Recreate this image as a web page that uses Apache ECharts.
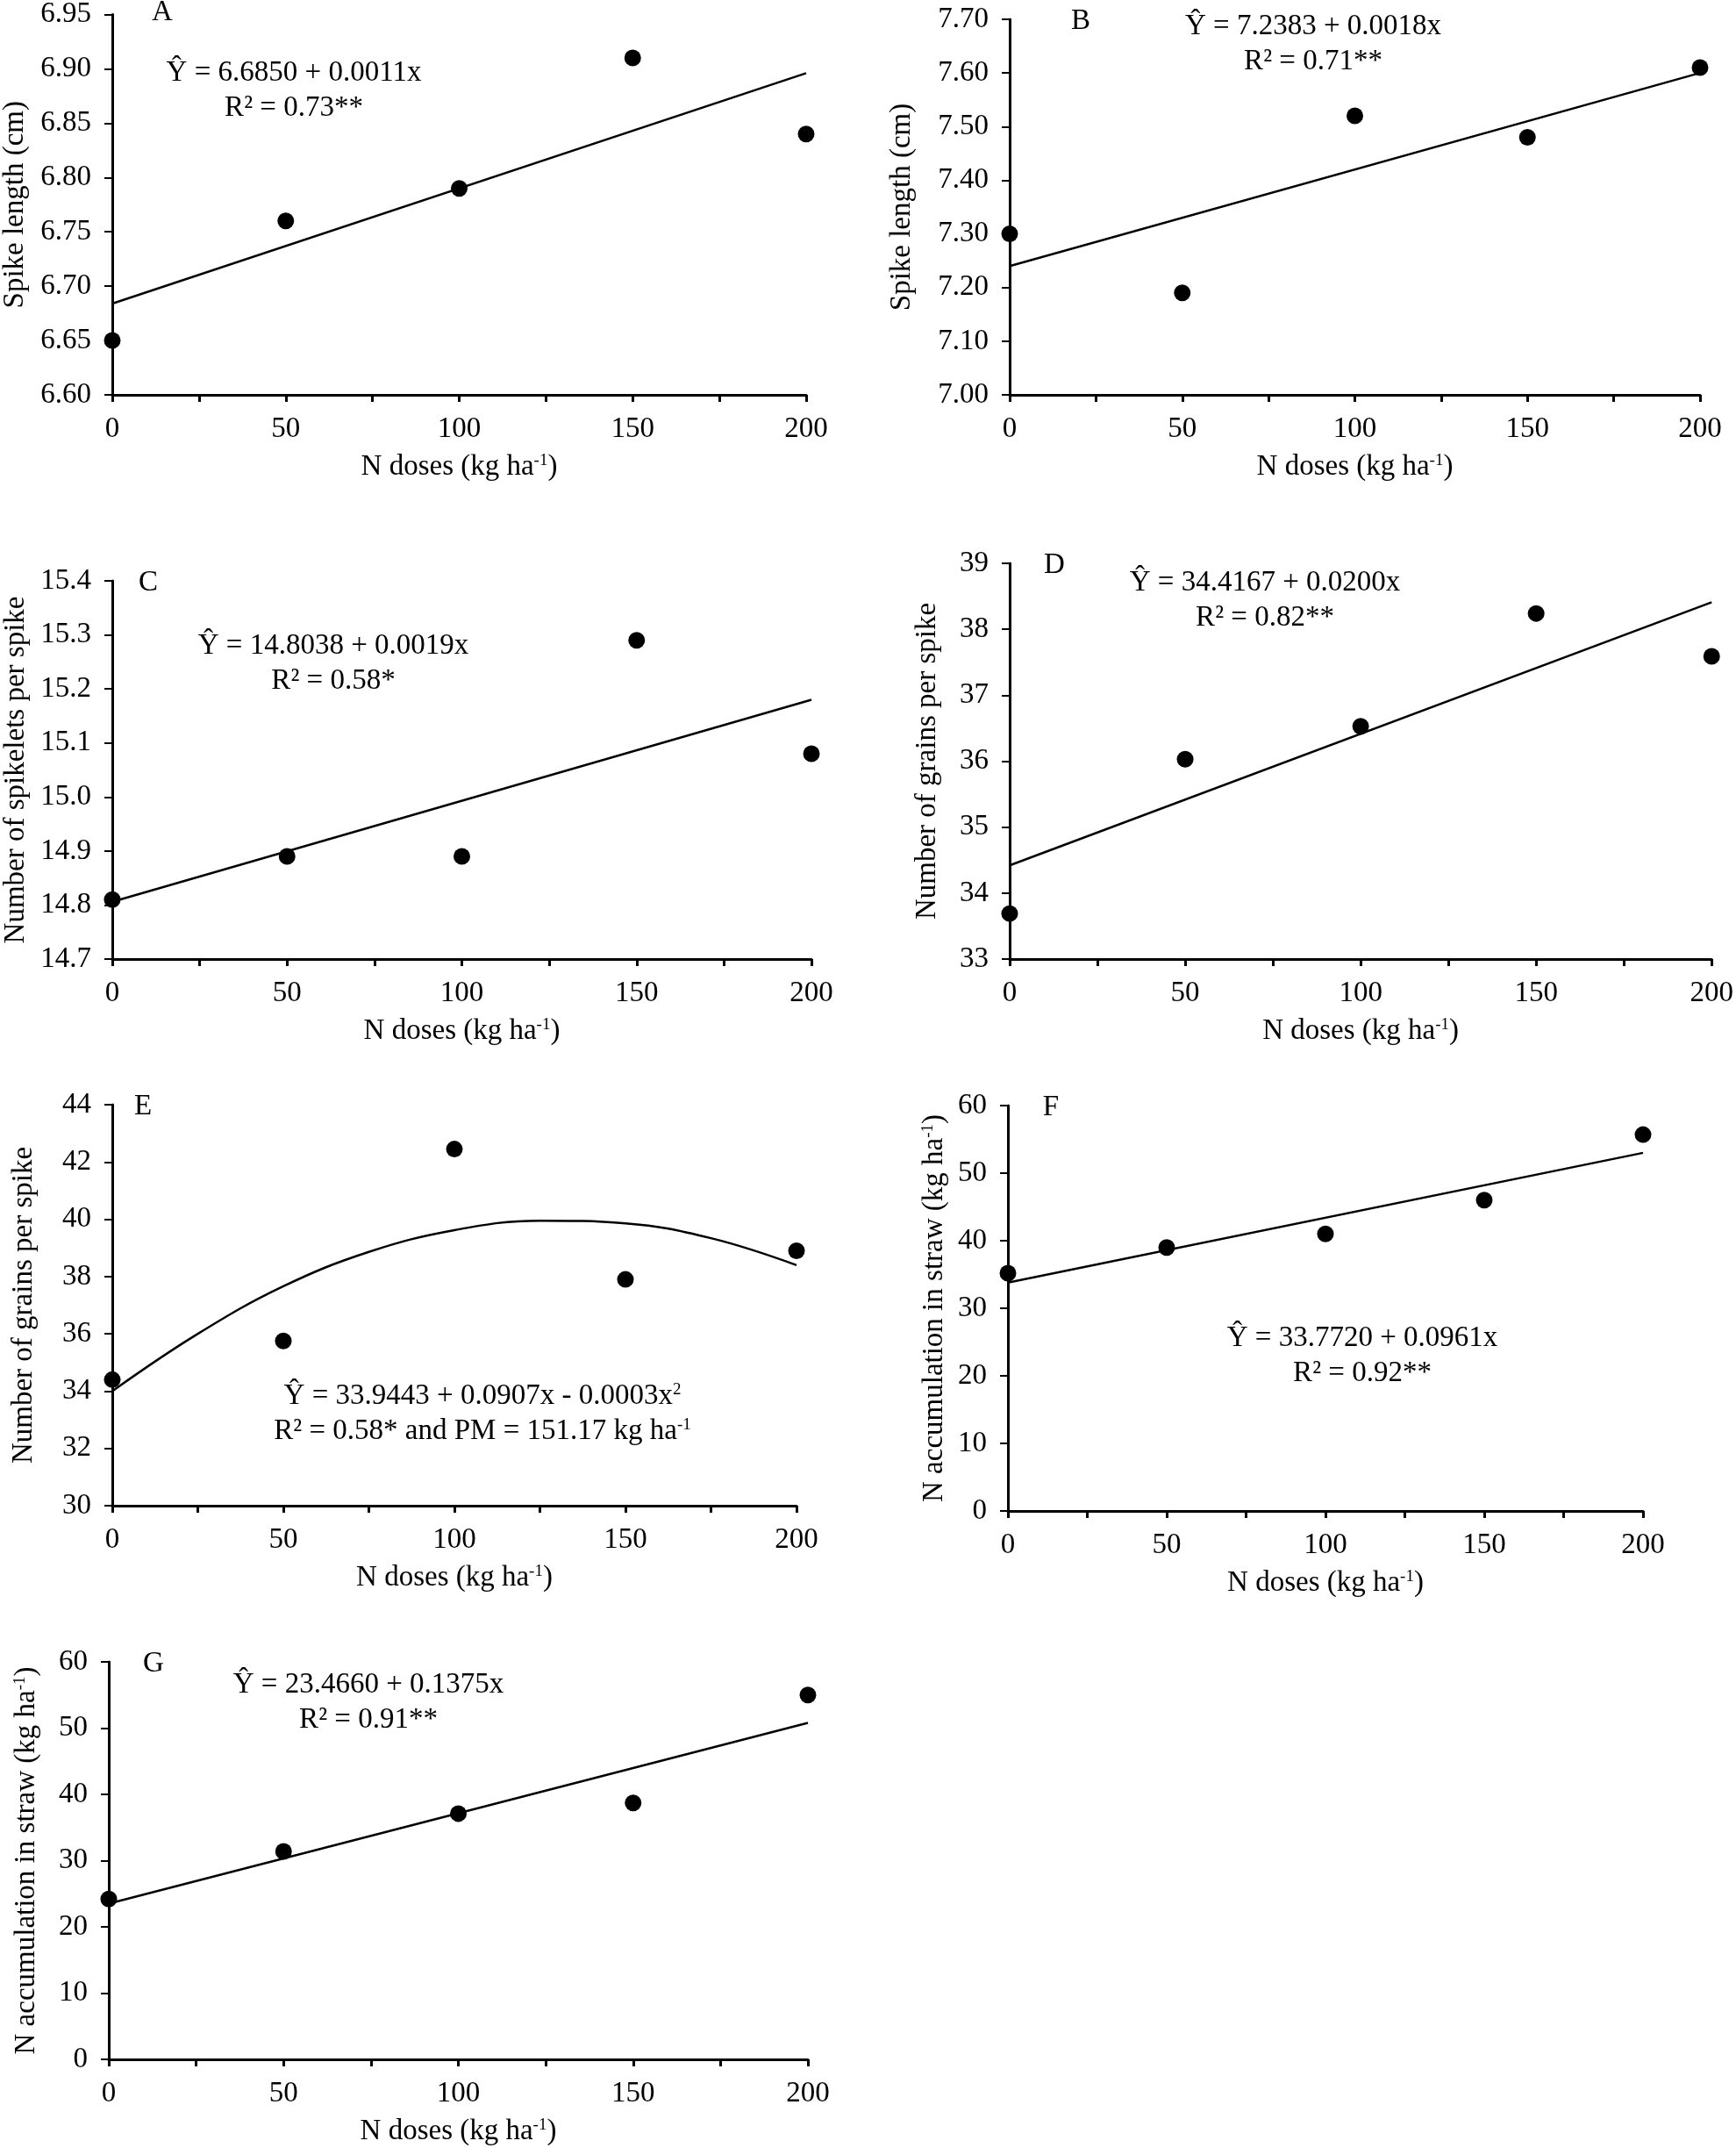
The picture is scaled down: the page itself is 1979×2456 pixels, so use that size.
<!DOCTYPE html>
<html>
<head>
<meta charset="utf-8">
<script src="https://cdn.jsdelivr.net/npm/echarts@6/dist/echarts.min.js"></script>
<style>
  html, body { margin: 0; padding: 0; background: #fff; }
  #chart { width: 1979px; height: 2456px; }
</style>
</head>
<body>
<div id="chart"></div>
<script>
// N doses on every x axis
const doses = [0, 50, 100, 150, 200];
const fitDoses = [0, 200];

// A - spike length (cm)
const spikeLenA = [6.65, 6.76, 6.79, 6.91, 6.84];
const fitA = [6.684, 6.896];
// B - spike length (cm)
const spikeLenB = [7.30, 7.19, 7.52, 7.48, 7.61];
const fitB = [7.240, 7.600];
// C - spikelets per spike
const spikeletsC = [14.81, 14.89, 14.89, 15.29, 15.08];
const fitC = [14.806, 15.180];
// D - grains per spike
const grainsD = [33.69, 36.03, 36.53, 38.24, 37.59];
const fitD = [34.42, 38.41];
// E - grains per spike, quadratic fit
const grainsE = [34.40, 35.75, 42.45, 37.90, 38.90];
const curveDosesE = [0, 25, 50, 75, 100, 125, 150, 175, 200];
const curveE = [34.0, 36.0, 37.66, 38.86, 39.62, 39.95, 39.86, 39.34, 38.4];
// F, G - N accumulation in straw (kg ha-1)
const strawF = [35.2, 39.0, 41.0, 46.0, 55.7];
const fitF = [33.8, 53.0];
const strawG = [24.2, 31.4, 37.1, 38.7, 55.0];
const fitG = [23.5, 50.8];

const panelLabels = ['A', 'B', 'C', 'D', 'E', 'F', 'G'];
const yTitles = [
  'Spike length (cm)',
  'Spike length (cm)',
  'Number of spikelets per spike',
  'Number of grains per spike',
  'Number of grains per spike',
  'N accumulation in straw (kg ha{sup|-1})',
  'N accumulation in straw (kg ha{sup|-1})'
];
const equations = [
  ['Ŷ = 6.6850 + 0.0011x', 'R² = 0.73**'],
  ['Ŷ = 7.2383 + 0.0018x', 'R² = 0.71**'],
  ['Ŷ = 14.8038 + 0.0019x', 'R² = 0.58*'],
  ['Ŷ = 34.4167 + 0.0200x', 'R² = 0.82**'],
  ['Ŷ = 33.9443 + 0.0907x - 0.0003x{sup|2}', 'R² = 0.58* and PM = 151.17 kg ha{sup|-1}'],
  ['Ŷ = 33.7720 + 0.0961x', 'R² = 0.92**'],
  ['Ŷ = 23.4660 + 0.1375x', 'R² = 0.91**']
];

const FONT = 'Liberation Serif';
const FS = 33;
const sup = { fontSize: 19, fontFamily: FONT, color: '#000', verticalAlign: 'top', lineHeight: 19 };

// layout of each panel (px)
const panels = [
  { grid: [127, 12, 792, 438], y: [6.60, 6.95, 0.05, 2], nameGap: 94, label: [185, 14], eq: [335, 83] },
  { grid: [1151, 22, 787, 428], y: [7.00, 7.70, 0.10, 2], nameGap: 106, label: [1232, 24], eq: [1497, 30] },
  { grid: [128, 662, 797, 431], y: [14.7, 15.4, 0.1, 1], nameGap: 93, label: [169, 664], eq: [380, 736] },
  { grid: [1151, 642, 801, 451], y: [33, 39, 1, 0], nameGap: 77, label: [1202, 644], eq: [1442, 664] },
  { grid: [128, 1259, 780, 457], y: [30, 44, 2, 0], nameGap: 84, label: [163, 1261], eq: [550, 1591] },
  { grid: [1149, 1260, 724, 462], y: [0, 60, 10, 0], nameGap: 67, label: [1198, 1262], eq: [1553, 1525] },
  { grid: [124, 1894, 797, 453], y: [0, 60, 10, 0], nameGap: 77, label: [175, 1896], eq: [420, 1920] }
];

const pointSets = [spikeLenA, spikeLenB, spikeletsC, grainsD, grainsE, strawF, strawG];
const fitSets = [fitA, fitB, fitC, fitD, null, fitF, fitG];

const chart = echarts.init(document.getElementById('chart'));

const grids = [], xAxes = [], yAxes = [], series = [], graphics = [];

panels.forEach((p, i) => {
  grids.push({ left: p.grid[0], top: p.grid[1], width: p.grid[2], height: p.grid[3] });

  xAxes.push({
    gridIndex: i,
    type: 'value',
    min: 0, max: 200, interval: 25,
    name: 'N doses (kg ha{sup|-1})',
    nameLocation: 'middle',
    nameGap: 66,
    nameTextStyle: { fontFamily: FONT, fontSize: FS, color: '#000', rich: { sup } },
    axisLine: { show: true, onZero: false, lineStyle: { color: '#000', width: 3 } },
    axisTick: { show: true, inside: false, length: 8, lineStyle: { color: '#000', width: 3 } },
    axisLabel: {
      margin: 23, fontFamily: FONT, fontSize: FS, color: '#000',
      formatter: v => (v % 50 === 0 ? String(v) : '')
    },
    splitLine: { show: false }
  });

  yAxes.push({
    gridIndex: i,
    type: 'value',
    min: p.y[0], max: p.y[1], interval: p.y[2],
    name: yTitles[i],
    nameLocation: 'middle',
    nameRotate: 90,
    nameGap: p.nameGap,
    nameTextStyle: { fontFamily: FONT, fontSize: FS, color: '#000', rich: { sup } },
    axisLine: { show: true, onZero: false, lineStyle: { color: '#000', width: 3 } },
    axisTick: { show: true, inside: false, length: 9, lineStyle: { color: '#000', width: 2 } },
    axisLabel: {
      margin: 24, fontFamily: FONT, fontSize: FS, color: '#000',
      formatter: v => v.toFixed(p.y[3])
    },
    splitLine: { show: false }
  });

  // fitted line / curve
  if (fitSets[i]) {
    series.push({
      type: 'line', xAxisIndex: i, yAxisIndex: i,
      data: fitDoses.map((d, k) => [d, fitSets[i][k]]),
      showSymbol: false, symbol: 'none',
      lineStyle: { color: '#000', width: 2.5 },
      z: 2
    });
  } else {
    series.push({
      type: 'line', xAxisIndex: i, yAxisIndex: i,
      data: curveDosesE.map((d, k) => [d, curveE[k]]),
      smooth: 0.4, showSymbol: false, symbol: 'none',
      lineStyle: { color: '#000', width: 2.5 },
      z: 2
    });
  }

  series.push({
    type: 'scatter', xAxisIndex: i, yAxisIndex: i,
    data: doses.map((d, k) => [d, pointSets[i][k]]),
    symbolSize: 19,
    itemStyle: { color: '#000', opacity: 1 },
    clip: false,
    z: 3
  });

  graphics.push({
    type: 'text', x: p.label[0], y: p.label[1],
    style: {
      text: panelLabels[i], fontFamily: FONT, fontSize: FS, fill: '#000',
      align: 'center', verticalAlign: 'middle', textAlign: 'center', textVerticalAlign: 'middle'
    }
  });

  equations[i].forEach((line, k) => {
    graphics.push({
      type: 'text', x: p.eq[0], y: p.eq[1] + k * 40,
      style: {
        text: line, fontFamily: FONT, fontSize: FS, fill: '#000',
        align: 'center', verticalAlign: 'middle', textAlign: 'center', textVerticalAlign: 'middle',
        rich: { sup: { fontSize: 19, fontFamily: FONT, fill: '#000', verticalAlign: 'top', lineHeight: 19 } }
      }
    });
  });
});

chart.setOption({
  backgroundColor: '#fff',
  animation: false,
  grid: grids,
  xAxis: xAxes,
  yAxis: yAxes,
  series: series,
  graphic: { elements: graphics }
});
</script>
</body>
</html>
